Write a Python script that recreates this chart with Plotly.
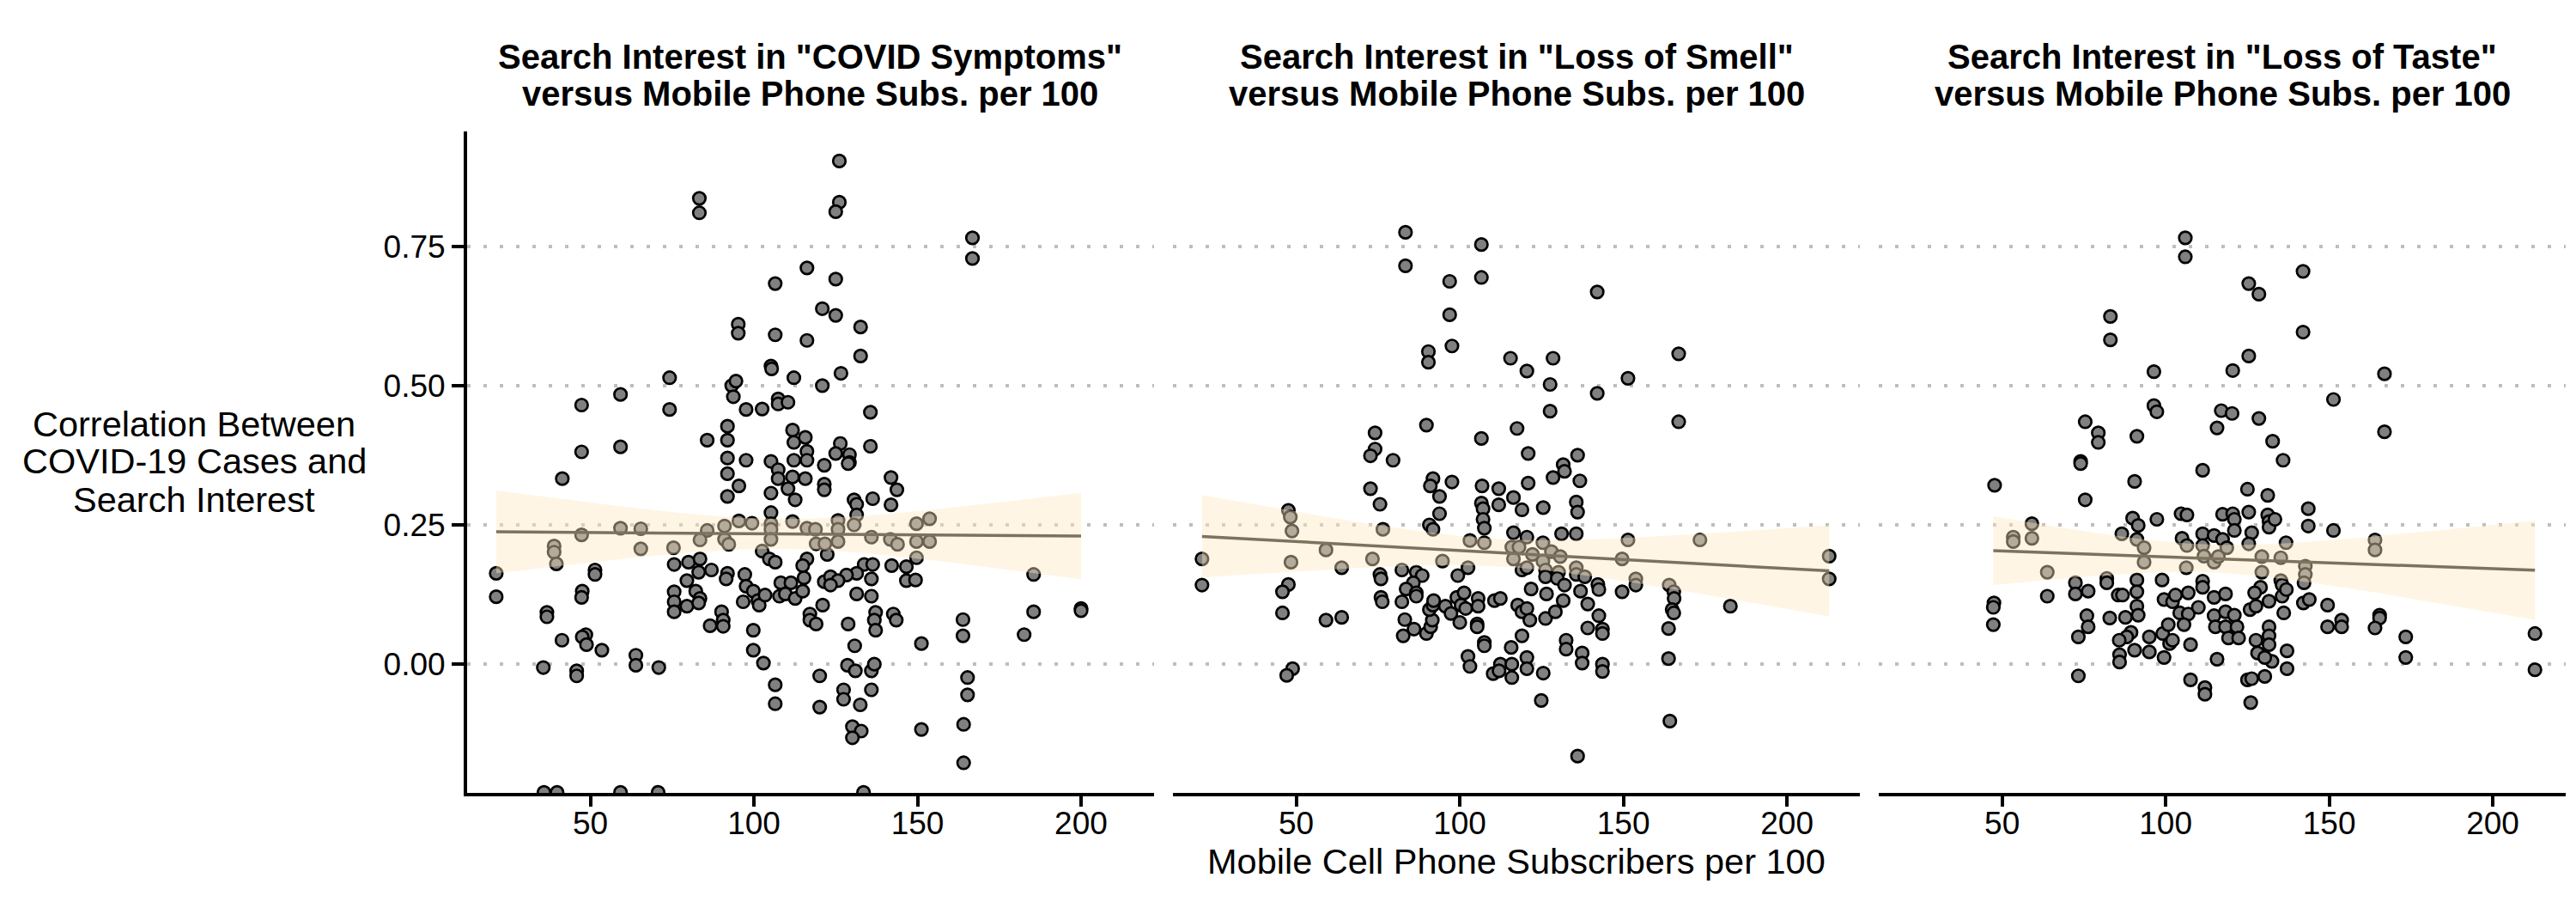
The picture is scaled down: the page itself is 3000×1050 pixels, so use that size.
import numpy as np
import plotly.graph_objects as go

# ==========================================
# 1. DONNÉES
# ==========================================
# (abonnés mobiles pour 100 hab., corrélation cas COVID / intérêt de recherche)
symptoms_pts = [
    (83.3, 0.836), (83.3, 0.810), (116.2, 0.711), (106.5, 0.683), (120.9, 0.638),
    (95.2, 0.610), (95.2, 0.594), (106.5, 0.591), (116.2, 0.581), (105.2, 0.535),
    (105.4, 0.530), (112.2, 0.514), (120.9, 0.500), (93.2, 0.500), (94.5, 0.508),
    (93.7, 0.480), (97.6, 0.457), (102.5, 0.458), (107.4, 0.476), (107.4, 0.467),
    (110.4, 0.470), (74.2, 0.514), (74.2, 0.457), (59.2, 0.484), (59.2, 0.390),
    (47.3, 0.465), (47.3, 0.381), (41.4, 0.333), (21.2, 0.163), (21.2, 0.121),
    (38.9, 0.212), (38.9, 0.201), (39.6, 0.180), (47.3, 0.232), (59.2, 0.244),
    (65.4, 0.243), (65.4, 0.207), (75.4, 0.209), (51.4, 0.169), (51.4, 0.161),
    (47.5, 0.131), (47.3, 0.120), (36.7, 0.093), (36.7, 0.085), (41.3, 0.043),
    (48.6, 0.053), (47.5, 0.049), (48.8, 0.035), (53.5, 0.025), (35.6, -0.006),
    (45.8, -0.012), (45.8, -0.021), (63.9, 0.016), (63.9, -0.002), (70.9, -0.006),
    (35.8, -0.230), (39.8, -0.230), (59.2, -0.230), (70.7, -0.230),
    (85.7, 0.402), (91.9, 0.427), (91.9, 0.402), (91.9, 0.370), (91.9, 0.342),
    (91.9, 0.301), (97.6, 0.366), (95.4, 0.320), (105.2, 0.364), (107.4, 0.349),
    (107.4, 0.333), (110.4, 0.315), (112.6, 0.295), (111.8, 0.420), (112.2, 0.398),
    (112.2, 0.366), (115.7, 0.407), (116.2, 0.382), (116.2, 0.366), (111.8, 0.336),
    (115.7, 0.333), (121.5, 0.357), (121.5, 0.323), (121.5, 0.313), (105.2, 0.307),
    (105.2, 0.272), (105.2, 0.252), (105.2, 0.242), (105.2, 0.224), (111.8, 0.256),
    (95.4, 0.257), (99.4, 0.253), (91.0, 0.248), (91.0, 0.224), (92.3, 0.215),
    (85.7, 0.240), (83.5, 0.223), (102.5, 0.203), (104.7, 0.189), (106.5, 0.183),
    (116.2, 0.244), (118.8, 0.242), (119.0, 0.216), (116.2, 0.189), (114.9, 0.177),
    (122.4, 0.197), (75.6, 0.179), (80.0, 0.183), (83.5, 0.189), (83.1, 0.165),
    (87.0, 0.169), (79.5, 0.150), (82.2, 0.131), (83.5, 0.118), (75.6, 0.130),
    (75.6, 0.112), (75.6, 0.094), (79.5, 0.104), (83.1, 0.110), (91.9, 0.163),
    (91.5, 0.153), (97.2, 0.161), (97.6, 0.140), (99.8, 0.131), (96.7, 0.112),
    (101.2, 0.114), (101.6, 0.106), (103.4, 0.124), (108.2, 0.146), (111.3, 0.146),
    (107.8, 0.122), (109.6, 0.126), (112.6, 0.118), (114.9, 0.131), (115.3, 0.155),
    (121.5, 0.148), (121.0, 0.106), (86.6, 0.069), (90.1, 0.094), (90.6, 0.079),
    (90.6, 0.068), (99.8, 0.061), (99.8, 0.025), (102.9, 0.002), (117.1, 0.090),
    (117.1, 0.079), (119.0, 0.072), (106.5, -0.037), (106.5, -0.071), (120.1, -0.021),
    (120.1, -0.077),
    (126.1, 0.903), (126.1, 0.829), (125.0, 0.812), (125.0, 0.691), (125.0, 0.626),
    (132.6, 0.605), (132.6, 0.553), (126.6, 0.522), (135.6, 0.452), (135.6, 0.391),
    (126.4, 0.396), (125.0, 0.378), (129.2, 0.376), (129.2, 0.362), (128.8, 0.360),
    (141.9, 0.335), (143.7, 0.313), (141.9, 0.286), (136.3, 0.297), (130.6, 0.295),
    (131.4, 0.287), (131.4, 0.268), (130.6, 0.250), (125.7, 0.258), (125.7, 0.242),
    (125.7, 0.220), (121.7, 0.216), (135.9, 0.228), (141.7, 0.224), (143.9, 0.215),
    (149.7, 0.252), (149.7, 0.220), (153.7, 0.261), (153.7, 0.220), (149.7, 0.191),
    (133.7, 0.179), (136.3, 0.179), (142.1, 0.177), (131.4, 0.163), (135.9, 0.153),
    (146.6, 0.175), (146.6, 0.150), (149.4, 0.151), (128.3, 0.160), (123.4, 0.157),
    (125.7, 0.150), (123.4, 0.142), (131.4, 0.126), (135.9, 0.122), (137.2, 0.093),
    (136.8, 0.079), (137.2, 0.061), (142.6, 0.090), (143.5, 0.079), (128.8, 0.072),
    (130.8, 0.033), (151.2, 0.037), (163.9, 0.080), (163.9, 0.051), (185.5, 0.161),
    (185.5, 0.094), (182.6, 0.053), (200.0, 0.100), (200.0, 0.096), (128.6, -0.002),
    (131.0, -0.012), (135.9, -0.012), (136.8, 0.000), (127.4, -0.046), (127.4, -0.063),
    (135.9, -0.046), (132.5, -0.073), (130.1, -0.112), (132.8, -0.120), (130.1, -0.132),
    (151.2, -0.117), (165.3, -0.024), (165.3, -0.055), (164.1, -0.108), (164.1, -0.177),
    (133.5, -0.230), (166.8, 0.765), (166.8, 0.728),
]

smell_pts = [
    (21.2, 0.189), (21.2, 0.142), (47.6, 0.276), (48.2, 0.264), (48.7, 0.239),
    (48.4, 0.183), (47.6, 0.143), (45.8, 0.130), (45.8, 0.092), (48.9, -0.008),
    (47.1, -0.020), (59.1, 0.205), (63.9, 0.173), (59.1, 0.079), (63.9, 0.084),
    (74.1, 0.415), (74.1, 0.386), (72.7, 0.374), (79.6, 0.366), (72.7, 0.315),
    (75.6, 0.287), (76.5, 0.242), (73.3, 0.189), (75.6, 0.161), (75.9, 0.153),
    (75.9, 0.120), (76.3, 0.112), (83.4, 0.775), (83.4, 0.715), (96.9, 0.687),
    (96.9, 0.627), (97.6, 0.571), (90.4, 0.561), (90.4, 0.542), (106.6, 0.753),
    (106.6, 0.694), (115.5, 0.549), (89.8, 0.429), (106.6, 0.405), (117.5, 0.423),
    (91.8, 0.333), (91.0, 0.320), (93.8, 0.301), (93.8, 0.270), (97.6, 0.327),
    (90.7, 0.250), (91.8, 0.242), (106.8, 0.320), (111.9, 0.315), (111.9, 0.286),
    (116.4, 0.299), (106.6, 0.289), (107.1, 0.279), (107.1, 0.260), (107.5, 0.244),
    (107.5, 0.218), (103.1, 0.222), (119.0, 0.277), (116.4, 0.236), (115.9, 0.210),
    (118.1, 0.210), (116.4, 0.189), (94.7, 0.185), (102.5, 0.173), (82.3, 0.169),
    (99.4, 0.159), (119.0, 0.169), (86.7, 0.165), (88.5, 0.159), (85.8, 0.146),
    (83.6, 0.135), (86.7, 0.128), (86.7, 0.122), (82.3, 0.112), (83.2, 0.080),
    (82.7, 0.051), (86.0, 0.063), (89.8, 0.055), (91.1, 0.067), (91.6, 0.079),
    (90.7, 0.098), (91.8, 0.106), (92.0, 0.114), (95.6, 0.104), (97.3, 0.091),
    (100.0, 0.075), (99.1, 0.120), (101.3, 0.128), (100.4, 0.106), (101.8, 0.100),
    (105.6, 0.118), (105.6, 0.104), (105.3, 0.072), (105.3, 0.067), (110.6, 0.114),
    (112.4, 0.118), (107.5, 0.039), (107.5, 0.033), (102.5, 0.014), (103.1, -0.004),
    (110.2, -0.017), (112.4, 0.000), (112.0, -0.012), (115.7, 0.030), (115.9, 0.000),
    (115.9, -0.024), (119.0, 0.051), (117.7, 0.106), (119.0, 0.094),
    (120.5, 0.526), (128.5, 0.549), (127.6, 0.502), (127.6, 0.454), (142.0, 0.668),
    (142.0, 0.486), (151.4, 0.513), (166.9, 0.557), (166.9, 0.435), (120.9, 0.378),
    (120.9, 0.325), (131.6, 0.358), (132.0, 0.346), (128.5, 0.335), (136.0, 0.375),
    (136.7, 0.329), (135.6, 0.291), (136.0, 0.273), (125.5, 0.281), (131.1, 0.234),
    (135.6, 0.234), (120.5, 0.228), (125.4, 0.218), (151.4, 0.223), (173.4, 0.223),
    (212.9, 0.194), (212.9, 0.153), (149.6, 0.189), (153.8, 0.153), (153.8, 0.142),
    (149.6, 0.130), (122.2, 0.197), (125.4, 0.185), (128.0, 0.202), (130.7, 0.193),
    (120.5, 0.173), (126.2, 0.169), (130.2, 0.165), (135.6, 0.173), (135.6, 0.161),
    (138.2, 0.157), (126.2, 0.157), (129.8, 0.154), (132.0, 0.142), (121.8, 0.135),
    (126.5, 0.126), (131.6, 0.114), (136.9, 0.131), (139.1, 0.108), (142.2, 0.143),
    (142.5, 0.134), (120.5, 0.100), (121.4, 0.079), (126.2, 0.082), (129.2, 0.094),
    (139.1, 0.065), (142.5, 0.087), (143.6, 0.063), (143.6, 0.055), (132.5, 0.043),
    (132.5, 0.027), (137.4, 0.020), (137.4, 0.002), (120.5, 0.012), (120.5, -0.008),
    (125.5, -0.016), (143.6, 0.000), (143.6, -0.013), (124.9, -0.065), (136.0, -0.165),
    (164.0, 0.142), (165.4, 0.130), (165.5, 0.118), (164.9, 0.098), (165.4, 0.092),
    (163.8, 0.064), (163.8, 0.010), (164.2, -0.102), (182.7, 0.104),
]

taste_pts = [
    (47.7, 0.321), (47.5, 0.110), (47.3, 0.102), (47.3, 0.071), (53.4, 0.228),
    (53.4, 0.220), (59.1, 0.252), (59.1, 0.226), (63.8, 0.165), (63.8, 0.122),
    (75.4, 0.435), (79.4, 0.415), (79.4, 0.398), (74.0, 0.364), (74.0, 0.360),
    (75.4, 0.295), (72.4, 0.146), (72.4, 0.126), (76.3, 0.131), (82.0, 0.154),
    (82.0, 0.146), (75.9, 0.087), (76.3, 0.067), (73.3, 0.049), (73.3, -0.021),
    (83.1, 0.624), (83.1, 0.582), (96.4, 0.525), (96.4, 0.464), (97.3, 0.453),
    (91.2, 0.409), (90.5, 0.328), (106.0, 0.765), (106.0, 0.731), (117.0, 0.455),
    (115.7, 0.424), (111.3, 0.348), (89.9, 0.262), (91.6, 0.249), (91.2, 0.224),
    (86.6, 0.234), (97.3, 0.260), (93.4, 0.209), (93.4, 0.183), (104.7, 0.270),
    (106.5, 0.268), (105.0, 0.226), (106.5, 0.213), (111.3, 0.234), (111.3, 0.213),
    (114.8, 0.231), (117.4, 0.224), (117.4, 0.269), (111.7, 0.194), (114.8, 0.183),
    (116.1, 0.193), (106.3, 0.173), (91.2, 0.151), (91.2, 0.130), (91.2, 0.104),
    (91.6, 0.088), (85.5, 0.124), (86.8, 0.124), (98.9, 0.151), (82.9, 0.083),
    (87.7, 0.084), (89.4, 0.057), (88.1, 0.049), (85.8, 0.043), (85.9, 0.017),
    (85.9, 0.004), (90.5, 0.025), (95.0, 0.049), (95.0, 0.022), (99.5, 0.012),
    (99.1, 0.055), (100.8, 0.071), (101.2, 0.037), (102.1, 0.043), (99.5, 0.116),
    (102.1, 0.112), (103.0, 0.124), (106.9, 0.128), (104.3, 0.092), (106.9, 0.090),
    (105.6, 0.071), (110.0, 0.102), (111.3, 0.149), (111.3, 0.138), (114.8, 0.120),
    (118.3, 0.126), (114.8, 0.087), (115.2, 0.067), (118.3, 0.094), (118.3, 0.067),
    (107.6, 0.035), (115.7, 0.009), (107.6, -0.028), (112.0, -0.042), (112.0, -0.054),
    (120.5, 0.527), (125.4, 0.553), (125.4, 0.683), (128.5, 0.664), (142.0, 0.705),
    (142.0, 0.596), (166.9, 0.521), (166.9, 0.417), (151.3, 0.475), (120.3, 0.450),
    (128.5, 0.441), (132.7, 0.400), (135.9, 0.366), (125.0, 0.314), (131.2, 0.303),
    (125.4, 0.273), (143.6, 0.279), (143.6, 0.248), (151.3, 0.240), (120.5, 0.270),
    (121.0, 0.260), (121.0, 0.240), (118.7, 0.209), (131.2, 0.268), (131.6, 0.256),
    (131.6, 0.246), (133.4, 0.260), (126.3, 0.236), (125.4, 0.216), (136.8, 0.218),
    (164.0, 0.223), (164.0, 0.205), (129.4, 0.193), (129.4, 0.165), (135.2, 0.191),
    (142.7, 0.176), (142.7, 0.161), (142.3, 0.146), (135.2, 0.150), (135.6, 0.142),
    (135.6, 0.122), (136.9, 0.134), (129.0, 0.138), (127.2, 0.128), (131.6, 0.113),
    (125.8, 0.098), (127.6, 0.104), (136.1, 0.092), (142.1, 0.110), (143.9, 0.116),
    (149.5, 0.106), (149.5, 0.067), (153.8, 0.079), (153.8, 0.067), (165.4, 0.088),
    (165.4, 0.083), (164.0, 0.065), (173.4, 0.049), (173.4, 0.012), (212.9, 0.055),
    (212.9, -0.010), (121.0, 0.088), (121.8, 0.067), (119.2, 0.047), (122.3, 0.047),
    (131.6, 0.067), (131.6, 0.051), (131.6, 0.035), (127.6, 0.043), (128.1, 0.020),
    (132.5, 0.005), (130.3, 0.012), (137.1, 0.024), (137.1, -0.008), (125.0, -0.028),
    (126.3, -0.026), (130.3, -0.022), (126.0, -0.069),
]

panel_titles = [
    ['Search Interest in "COVID Symptoms"', "versus Mobile Phone Subs. per 100"],
    ['Search Interest in "Loss of Smell"', "versus Mobile Phone Subs. per 100"],
    ['Search Interest in "Loss of Taste"', "versus Mobile Phone Subs. per 100"],
]
y_title_lines = ["Correlation Between", "COVID-19 Cases and", "Search Interest"]
x_title = "Mobile Cell Phone Subscribers per 100"
x_ticks = [50, 100, 150, 200]
y_ticks = [0, 0.25, 0.50, 0.75]
y_ticktext = ["0.00", "0.25", "0.50", "0.75"]

# ==========================================
# 2. STYLE
# ==========================================
FONT = "Liberation Sans, Arial, Helvetica, sans-serif"
X_RANGE = [12.3, 222.3]
Y_RANGE = [-0.231, 0.956]
DOMAINS = [[0.0, 0.3273], [0.3363, 0.6637], [0.6727, 1.0]]
W, H = 3000, 1050
M = dict(l=536, r=20, t=145, b=135)
PH = H - M["t"] - M["b"]


def py(px):
    # pixel (depuis le haut) -> coordonnée papier
    return (H - M["b"] - px) / PH


def lm_band(x, y, n=80, t=1.97):
    x = np.asarray(x); y = np.asarray(y)
    keep = y > Y_RANGE[0] + 0.002   # points hors échelle exclus du lissage
    x, y = x[keep], y[keep]
    b1, b0 = np.polyfit(x, y, 1)
    res = y - (b0 + b1 * x)
    s = np.sqrt(np.sum(res ** 2) / (len(x) - 2))
    xs = np.linspace(x.min(), x.max(), n)
    se = s * np.sqrt(1 / len(x) + (xs - x.mean()) ** 2 / np.sum((x - x.mean()) ** 2))
    fit = b0 + b1 * xs
    return xs, fit, fit - t * se, fit + t * se


fig = go.Figure()
for i, pts in enumerate([symptoms_pts, smell_pts, taste_pts]):
    xs = [p[0] for p in pts]
    ys = [p[1] for p in pts]
    xa = "x" if i == 0 else f"x{i + 1}"
    ya = "y" if i == 0 else f"y{i + 1}"
    fig.add_trace(go.Scatter(
        x=xs, y=ys, mode="markers", xaxis=xa, yaxis=ya,
        marker=dict(size=14.5, color="#808080", line=dict(color="black", width=2.7)),
        showlegend=False, hoverinfo="skip"))
    gx, fit, lo, hi = lm_band(xs, ys)
    fig.add_trace(go.Scatter(
        x=np.concatenate([gx, gx[::-1]]), y=np.concatenate([hi, lo[::-1]]),
        fill="toself", fillcolor="rgba(252,231,191,0.42)", line=dict(width=0),
        mode="lines", xaxis=xa, yaxis=ya, showlegend=False, hoverinfo="skip"))
    fig.add_trace(go.Scatter(
        x=gx, y=fit, mode="lines", line=dict(color="#7D725E", width=3.5),
        xaxis=xa, yaxis=ya, showlegend=False, hoverinfo="skip"))

layout = dict(
    width=W, height=H, margin=M,
    paper_bgcolor="white", plot_bgcolor="white",
    font=dict(family=FONT, color="black"),
    showlegend=False,
)
for i in range(3):
    k = "" if i == 0 else str(i + 1)
    layout[f"xaxis{k}"] = dict(
        domain=DOMAINS[i], range=X_RANGE, anchor=f"y{k}",
        tickvals=x_ticks, showline=True, linecolor="black", linewidth=4,
        ticks="outside", ticklen=12, tickwidth=4, tickcolor="black",
        tickfont=dict(size=37, family=FONT, color="black"),
        ticklabelstandoff=-12,
        showgrid=False, zeroline=False,
    )
    yax = dict(
        domain=[0, 1], range=Y_RANGE, anchor=f"x{k}",
        tickvals=y_ticks, ticktext=y_ticktext,
        showgrid=True, gridcolor="#BEBEBE", gridwidth=4, griddash="4px,15px",
        zeroline=False,
    )
    if i == 0:
        yax.update(showline=True, linecolor="black", linewidth=4,
                   ticks="outside", ticklen=14, tickwidth=4, tickcolor="black",
                   tickfont=dict(size=37, family=FONT, color="black"))
    else:
        yax.update(showline=False, ticks="", showticklabels=False)
    layout[f"yaxis{k}"] = yax
fig.update_layout(**layout)

# titres des panneaux (deux lignes, gras)
for i, lines in enumerate(panel_titles):
    cx = sum(DOMAINS[i]) / 2
    for j, (txt, base) in enumerate(zip(lines, [76.7, 120])):
        fig.add_annotation(
            text=f"<b>{txt}</b>", x=cx, y=py(base - 19), xref="paper", yref="paper",
            xanchor="center", yanchor="middle", showarrow=False,
            font=dict(size=40, family=FONT, color="black"))

# titre de l'axe y (trois lignes)
for txt, base in zip(y_title_lines, [502, 545, 590]):
    fig.add_annotation(
        text=txt, x=(218 - M["l"]) / (W - M["l"] - M["r"]), y=py(base - 17),
        xref="paper", yref="paper", xanchor="center", yanchor="middle",
        showarrow=False, font=dict(size=41.5, family=FONT, color="black"))

# titre de l'axe x
fig.add_annotation(
    text=x_title, x=0.5, y=py(1015 - 21), xref="paper", yref="paper",
    xanchor="center", yanchor="middle", showarrow=False,
    font=dict(size=41.5, family=FONT, color="black"))

fig.write_html("out.html")
